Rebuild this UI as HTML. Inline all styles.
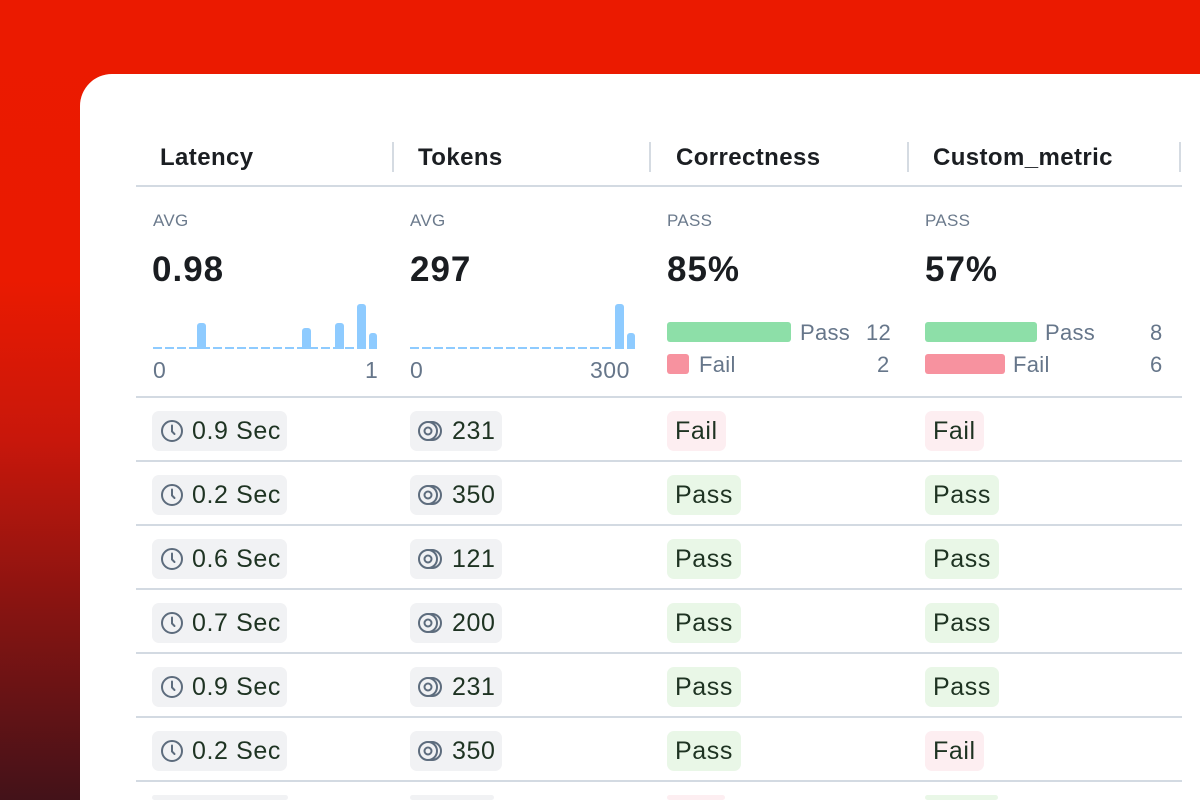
<!DOCTYPE html>
<html style="width:1200px;height:800px;overflow:hidden;background:#431219"><head><meta charset="utf-8"><style>
*{margin:0;padding:0;box-sizing:border-box}
body{width:1200px;height:800px;overflow:hidden;position:relative;font-family:"Liberation Sans",sans-serif;
background:linear-gradient(180deg,#eb1a00 0%,#ea1a01 35%,#c8170b 55%,#8a1411 75%,#431219 100%);}
.card{position:absolute;left:80px;top:74px;width:1120px;height:726px;background:#fff;border-top-left-radius:32px}
.a{position:absolute;white-space:nowrap}
.h{font-size:24px;font-weight:bold;color:#1b1e22;top:144px;letter-spacing:0.4px}
.div{position:absolute;top:142px;width:2px;height:30px;background:#d5dbe2}
.line{position:absolute;left:136px;width:1046px;height:2px;background:#d3dae2}
.lbl{font-size:17px;color:#6b7a8c;top:211px;letter-spacing:0.3px}
.big{font-size:35px;font-weight:bold;color:#1a1d21;top:250px;letter-spacing:1px}
.tick{font-size:23px;color:#66768a;top:357px;letter-spacing:0.5px}
.bar{position:absolute;background:#8ecbff;border-radius:3px 3px 0 0}
.dash{position:absolute;top:347px;height:2px;background:repeating-linear-gradient(90deg,#8ecbff 0 9px,transparent 9px 12px)}
.leg{font-size:22px;color:#66768a;letter-spacing:0.3px}
.badge{position:absolute;height:40px;border-radius:7px;background:#f1f2f4;font-size:25px;color:#1e3322;line-height:41px;padding:0 6px 0 8px;white-space:nowrap;letter-spacing:0.6px}
.badge svg{vertical-align:-4px;margin-right:8px}
.pass{background:#e9f7e7;padding:0 8px}
.fail{background:#fdeef1;padding:0 8px}
</style></head><body>
<div class="card"></div>
<div class="a h" style="left:160px">Latency</div>
<div class="a h" style="left:418px">Tokens</div>
<div class="a h" style="left:676px">Correctness</div>
<div class="a h" style="left:933px">Custom_metric</div>
<div class="div" style="left:392px"></div><div class="div" style="left:649px"></div><div class="div" style="left:907px"></div><div class="div" style="left:1179px"></div>
<div class="line" style="top:185px"></div>

<div class="a lbl" style="left:153px">AVG</div><div class="a lbl" style="left:410px">AVG</div>
<div class="a lbl" style="left:667px">PASS</div><div class="a lbl" style="left:925px">PASS</div>
<div class="a big" style="left:152px">0.98</div><div class="a big" style="left:410px">297</div>
<div class="a big" style="left:667px">85%</div><div class="a big" style="left:925px">57%</div>

<div class="dash" style="left:153px;width:224px"></div>
<div class="bar" style="left:197px;top:323px;width:9px;height:26px"></div>
<div class="bar" style="left:302px;top:328px;width:9px;height:21px"></div>
<div class="bar" style="left:335px;top:323px;width:9px;height:26px"></div>
<div class="bar" style="left:357px;top:304px;width:9px;height:45px"></div>
<div class="bar" style="left:369px;top:333px;width:8px;height:16px"></div>
<div class="a tick" style="left:153px">0</div><div class="a tick" style="left:365px">1</div>
<div class="dash" style="left:410px;width:204px"></div>
<div class="bar" style="left:615px;top:304px;width:9px;height:45px"></div>
<div class="bar" style="left:627px;top:333px;width:8px;height:16px"></div>
<div class="a tick" style="left:410px">0</div><div class="a tick" style="left:590px">300</div>

<div class="a" style="left:667px;top:322px;width:124px;height:20px;background:#8ddfa8;border-radius:3px"></div>
<div class="a leg" style="left:800px;top:320px">Pass</div><div class="a leg" style="left:866px;top:320px">12</div>
<div class="a" style="left:667px;top:354px;width:22px;height:20px;background:#f7929f;border-radius:3px"></div>
<div class="a leg" style="left:699px;top:352px">Fail</div><div class="a leg" style="left:877px;top:352px">2</div>
<div class="a" style="left:925px;top:322px;width:112px;height:20px;background:#8ddfa8;border-radius:3px"></div>
<div class="a leg" style="left:1045px;top:320px">Pass</div><div class="a leg" style="left:1150px;top:320px">8</div>
<div class="a" style="left:925px;top:354px;width:80px;height:20px;background:#f7929f;border-radius:3px"></div>
<div class="a leg" style="left:1013px;top:352px">Fail</div><div class="a leg" style="left:1150px;top:352px">6</div>

<div class="line" style="top:396px"></div>
<div class="line" style="top:460px"></div>
<div class="line" style="top:524px"></div>
<div class="line" style="top:588px"></div>
<div class="line" style="top:652px"></div>
<div class="line" style="top:716px"></div>
<div class="line" style="top:780px"></div>

<svg width="0" height="0" style="position:absolute"><defs>
<symbol id="clk" viewBox="0 0 24 24"><circle cx="12" cy="12" r="10" fill="none" stroke="#5d6c7d" stroke-width="2"/><path d="M12 6.5V12.5l2.5 2.5" fill="none" stroke="#5d6c7d" stroke-width="2" stroke-linecap="round"/></symbol>
<symbol id="coin" viewBox="0 0 26 24"><circle cx="14" cy="12" r="9" fill="none" stroke="#5d6c7d" stroke-width="2"/><circle cx="10" cy="12" r="9" fill="#f1f2f4" stroke="#5d6c7d" stroke-width="2"/><circle cx="10" cy="12" r="3.5" fill="none" stroke="#5d6c7d" stroke-width="2"/></symbol>
</defs></svg>

<div class="badge" style="left:152px;top:411px"><svg width="24" height="24"><use href="#clk"/></svg>0.9 Sec</div>
<div class="badge" style="left:410px;top:411px"><svg width="26" height="24"><use href="#coin"/></svg>231</div>
<div class="badge fail" style="left:667px;top:411px">Fail</div>
<div class="badge fail" style="left:925px;top:411px">Fail</div>

<div class="badge" style="left:152px;top:475px"><svg width="24" height="24"><use href="#clk"/></svg>0.2 Sec</div>
<div class="badge" style="left:410px;top:475px"><svg width="26" height="24"><use href="#coin"/></svg>350</div>
<div class="badge pass" style="left:667px;top:475px">Pass</div>
<div class="badge pass" style="left:925px;top:475px">Pass</div>

<div class="badge" style="left:152px;top:539px"><svg width="24" height="24"><use href="#clk"/></svg>0.6 Sec</div>
<div class="badge" style="left:410px;top:539px"><svg width="26" height="24"><use href="#coin"/></svg>121</div>
<div class="badge pass" style="left:667px;top:539px">Pass</div>
<div class="badge pass" style="left:925px;top:539px">Pass</div>

<div class="badge" style="left:152px;top:603px"><svg width="24" height="24"><use href="#clk"/></svg>0.7 Sec</div>
<div class="badge" style="left:410px;top:603px"><svg width="26" height="24"><use href="#coin"/></svg>200</div>
<div class="badge pass" style="left:667px;top:603px">Pass</div>
<div class="badge pass" style="left:925px;top:603px">Pass</div>

<div class="badge" style="left:152px;top:667px"><svg width="24" height="24"><use href="#clk"/></svg>0.9 Sec</div>
<div class="badge" style="left:410px;top:667px"><svg width="26" height="24"><use href="#coin"/></svg>231</div>
<div class="badge pass" style="left:667px;top:667px">Pass</div>
<div class="badge pass" style="left:925px;top:667px">Pass</div>

<div class="badge" style="left:152px;top:731px"><svg width="24" height="24"><use href="#clk"/></svg>0.2 Sec</div>
<div class="badge" style="left:410px;top:731px"><svg width="26" height="24"><use href="#coin"/></svg>350</div>
<div class="badge pass" style="left:667px;top:731px">Pass</div>
<div class="badge fail" style="left:925px;top:731px">Fail</div>

<div class="badge" style="left:152px;top:795px;height:5px;width:136px"></div>
<div class="badge" style="left:410px;top:795px;height:5px;width:84px"></div>
<div class="badge fail" style="left:667px;top:795px;height:5px;width:58px"></div>
<div class="badge pass" style="left:925px;top:795px;height:5px;width:73px"></div>
</body></html>
